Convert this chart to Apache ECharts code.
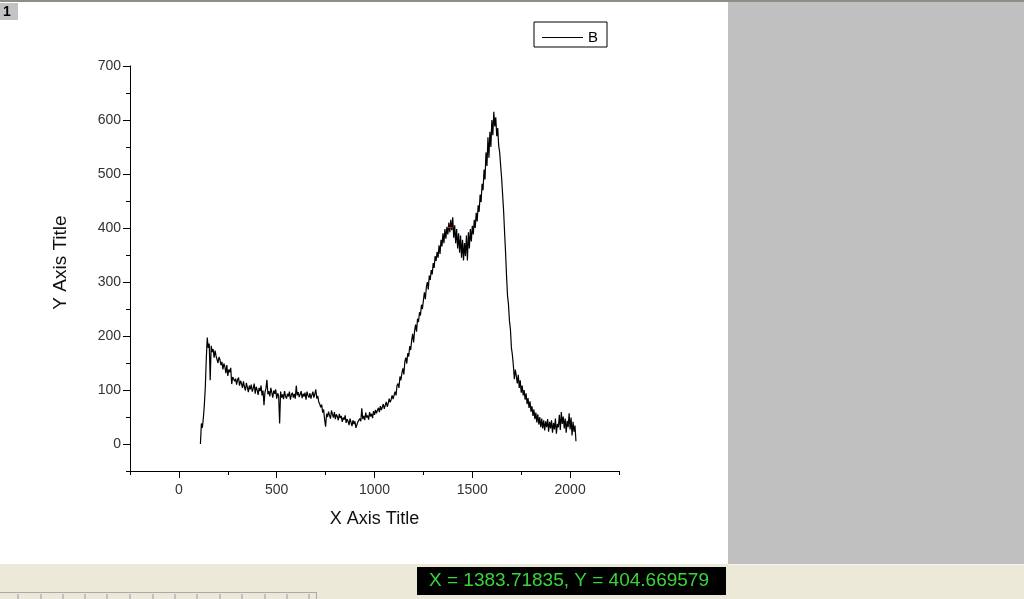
<!DOCTYPE html>
<html>
<head>
<meta charset="utf-8">
<script src="https://cdn.jsdelivr.net/npm/echarts@6.0.0/dist/echarts.min.js"></script>
<style>
  html, body { margin: 0; padding: 0; background: #ffffff; }
  #chart { width: 1024px; height: 599px; }
</style>
</head>
<body>
<div id="chart"></div>
<script>
// ---------- data ----------
const seriesName = 'B';
const xTitle = 'X Axis Title';
const yTitle = 'Y Axis Title';
const xMajorTicks = [0, 500, 1000, 1500, 2000];
const yMajorTicks = [0, 100, 200, 300, 400, 500, 600, 700];
const statusText = 'X = 1383.71835, Y = 404.669579';
const cursorMark = [[1370, 402], [1398, 402]];
const spectrumB = [
[110,0],[115,38],[120,30],[125,48],[130,72],[135,105],[140,158],[145,197],[150,178],[155,186],
[160,118],[165,182],[170,170],[175,176],[180,160],[185,173],[190,163],[195,166],[200,150],[205,161],
[210,156],[215,146],[220,152],[225,138],[230,149],[235,143],[240,131],[245,146],[250,126],[255,138],
[260,133],[265,141],[270,111],[275,124],[280,127],[285,116],[290,121],[295,110],[300,119],[305,123],
[310,108],[315,117],[320,112],[325,104],[330,116],[335,106],[340,99],[345,113],[350,105],[355,96],
[360,108],[365,101],[370,110],[375,97],[380,103],[385,112],[390,93],[395,106],[400,100],[405,91],
[410,104],[415,98],[420,108],[425,90],[430,99],[435,72],[440,96],[445,103],[450,119],[455,92],
[460,98],[465,88],[470,104],[475,95],[480,86],[485,99],[490,93],[495,101],[500,84],[505,94],
[510,89],[515,38],[520,97],[525,86],[530,92],[535,83],[540,98],[545,89],[550,84],[555,93],
[560,88],[565,97],[570,82],[575,91],[580,95],[585,86],[590,93],[595,84],[600,108],[605,90],
[610,96],[615,87],[620,92],[625,98],[630,85],[635,93],[640,88],[645,95],[650,82],[655,97],
[660,90],[665,86],[670,94],[675,84],[680,91],[685,97],[690,86],[695,93],[700,101],[705,84],
[710,89],[715,78],[720,74],[725,68],[730,73],[735,58],[740,64],[745,45],[750,32],[755,56],
[760,50],[765,60],[770,53],[775,47],[780,62],[785,55],[790,49],[795,59],[800,46],[805,55],
[810,51],[815,44],[820,56],[825,48],[830,52],[835,41],[840,49],[845,45],[850,53],[855,39],
[860,46],[865,42],[870,35],[875,47],[880,40],[885,33],[890,44],[895,37],[900,42],[905,30],
[910,27],[915,41],[920,38],[925,47],[930,42],[935,66],[940,46],[945,52],[950,44],[955,58],
[960,49],[965,53],[970,45],[975,59],[980,51],[985,56],[990,48],[995,61],[1000,54],[1005,63],
[1010,57],[1015,62],[1020,67],[1025,59],[1030,70],[1035,63],[1040,66],[1045,74],[1050,65],[1055,72],
[1060,78],[1065,69],[1070,75],[1075,84],[1080,77],[1085,82],[1090,90],[1095,83],[1100,86],[1105,97],
[1110,90],[1115,108],[1120,112],[1125,104],[1130,125],[1135,118],[1140,131],[1145,140],[1150,129],[1155,152],
[1160,160],[1165,149],[1170,168],[1175,162],[1180,181],[1185,174],[1190,192],[1195,204],[1200,188],[1205,210],
[1210,221],[1215,208],[1220,232],[1225,226],[1230,244],[1235,238],[1240,258],[1245,250],[1250,266],[1255,281],
[1260,268],[1265,290],[1270,300],[1275,286],[1280,312],[1285,304],[1290,322],[1295,314],[1300,335],[1305,326],
[1310,348],[1315,339],[1320,356],[1325,345],[1330,368],[1335,352],[1340,378],[1345,366],[1350,390],[1355,372],
[1360,398],[1365,380],[1370,402],[1375,388],[1380,410],[1385,392],[1390,415],[1395,396],[1400,420],[1405,382],
[1410,405],[1415,372],[1420,398],[1425,362],[1430,390],[1435,354],[1440,386],[1445,345],[1450,378],[1455,340],
[1460,372],[1465,348],[1470,386],[1475,340],[1480,392],[1485,362],[1490,398],[1495,375],[1500,404],[1505,388],
[1510,415],[1515,400],[1520,428],[1525,412],[1530,442],[1535,430],[1540,462],[1545,448],[1550,482],[1555,470],
[1560,508],[1565,490],[1570,540],[1575,515],[1580,568],[1585,530],[1590,578],[1595,550],[1600,600],[1605,572],
[1610,615],[1615,588],[1620,605],[1625,570],[1630,585],[1635,552],[1640,540],[1645,515],[1650,492],[1655,462],
[1660,432],[1665,392],[1670,355],[1675,312],[1680,275],[1685,258],[1690,228],[1695,212],[1700,178],[1705,165],
[1710,145],[1715,120],[1720,138],[1725,126],[1730,112],[1735,128],[1740,104],[1745,118],[1750,95],[1755,108],
[1760,90],[1765,100],[1770,82],[1775,94],[1780,74],[1785,85],[1790,67],[1795,79],[1800,60],[1805,70],
[1810,52],[1815,64],[1820,46],[1825,58],[1830,40],[1835,55],[1840,36],[1845,50],[1850,31],[1855,47],
[1860,29],[1865,44],[1870,25],[1875,42],[1880,31],[1885,46],[1890,23],[1895,41],[1900,29],[1905,44],
[1910,21],[1915,39],[1920,27],[1925,47],[1930,19],[1935,37],[1940,31],[1945,54],[1950,26],[1955,59],
[1960,37],[1965,51],[1970,29],[1975,47],[1980,21],[1985,43],[1990,31],[1995,57],[2000,27],[2005,49],
[2010,16],[2015,41],[2020,23],[2025,34],[2030,5]
];

// ---------- chart ----------
const FONT = '"Liberation Sans", Arial, sans-serif';
const chart = echarts.init(document.getElementById('chart'), null, { renderer: 'canvas' });

const axisLineStyle = { show: true, onZero: false, lineStyle: { color: '#000', width: 1 } };
const plainNumber = function (v) { return String(v); };

// scrollbar-like tick marks in the status strip (decoration)
const stripMarks = [];
[18, 41, 63, 85, 107, 130, 153, 175, 197, 220, 242, 265, 287, 309].forEach(function (x) {
  stripMarks.push({ type: 'line', shape: { x1: x, y1: 594, x2: x, y2: 599 }, style: { stroke: '#9a9a9a', lineWidth: 1 } });
});

const option = {
  animation: false,
  backgroundColor: '#ffffff',
  grid: { left: 130, top: 66, width: 489, height: 405, containLabel: false },
  legend: {
    data: [{ name: seriesName, icon: 'rect' }],
    left: 534, top: 22,
    orient: 'horizontal',
    padding: [8, 9, 2, 8],
    itemWidth: 41, itemHeight: 1,
    itemStyle: { color: '#000', borderWidth: 0 },
    lineStyle: { width: 0 },
    borderColor: '#000', borderWidth: 1,
    backgroundColor: '#fff',
    textStyle: { fontFamily: FONT, fontSize: 15, color: '#000' }
  },
  xAxis: [
    {
      type: 'value', gridIndex: 0, position: 'bottom',
      min: -250, max: 2250, interval: 250,
      axisLine: axisLineStyle,
      axisTick: { show: true, inside: false, length: 4, lineStyle: { color: '#000' } },
      axisLabel: { show: false },
      splitLine: { show: false }
    },
    {
      type: 'value', gridIndex: 0, position: 'bottom',
      min: -250, max: 2250, interval: 250,
      axisLine: { show: false, onZero: false },
      axisTick: { show: true, inside: false, length: 7, customValues: xMajorTicks, lineStyle: { color: '#000' } },
      axisLabel: { show: true, customValues: xMajorTicks, formatter: plainNumber, margin: 12, fontFamily: FONT, fontSize: 14, color: '#333' },
      splitLine: { show: false },
      name: xTitle, nameLocation: 'middle', nameGap: 39,
      nameTextStyle: { fontFamily: FONT, fontSize: 18, color: '#111' }
    }
  ],
  yAxis: [
    {
      type: 'value', gridIndex: 0, position: 'left',
      min: -50, max: 700, interval: 50,
      axisLine: axisLineStyle,
      axisTick: { show: true, inside: false, length: 4, lineStyle: { color: '#000' } },
      axisLabel: { show: false },
      splitLine: { show: false }
    },
    {
      type: 'value', gridIndex: 0, position: 'left',
      min: -50, max: 700, interval: 50,
      axisLine: { show: false, onZero: false },
      axisTick: { show: true, inside: false, length: 7, customValues: yMajorTicks, lineStyle: { color: '#000' } },
      axisLabel: { show: true, customValues: yMajorTicks, formatter: plainNumber, margin: 9, fontFamily: FONT, fontSize: 14, color: '#333' },
      splitLine: { show: false },
      name: yTitle, nameLocation: 'middle', nameGap: 60, nameRotate: 90,
      nameTextStyle: { fontFamily: FONT, fontSize: 19, color: '#111', padding: [0, 0, 0, 12] }
    }
  ],
  series: [
    {
      name: seriesName,
      type: 'line',
      xAxisIndex: 0, yAxisIndex: 0,
      data: spectrumB,
      symbol: 'none', showSymbol: false,
      smooth: false,
      lineStyle: { color: '#000', width: 1.2 },
      itemStyle: { color: '#000' },
      markLine: {
        silent: true, symbol: ['none', 'none'],
        label: { show: false },
        lineStyle: { color: '#e02020', width: 1, type: 'solid' },
        data: [[{ coord: cursorMark[0] }, { coord: cursorMark[1] }]]
      }
    }
  ],
  graphic: [
    { type: 'rect', z: -10, shape: { x: 0, y: 0, width: 1024, height: 2 }, style: { fill: '#8e8e86' } },
    { type: 'rect', z: -10, shape: { x: 728, y: 2, width: 296, height: 562 }, style: { fill: '#c0c0c0' } },
    { type: 'rect', z: -10, shape: { x: 0, y: 564, width: 1024, height: 35 }, style: { fill: '#ece9d8' } },
    { type: 'line', z: -9, shape: { x1: 728, y1: 564.5, x2: 1024, y2: 564.5 }, style: { stroke: '#f6f5ee', lineWidth: 1 } },
    { type: 'line', z: -9, shape: { x1: 0, y1: 592.5, x2: 317, y2: 592.5 }, style: { stroke: '#a8a8a8', lineWidth: 1 } },
    { type: 'line', z: -9, shape: { x1: 316.5, y1: 592, x2: 316.5, y2: 599 }, style: { stroke: '#a8a8a8', lineWidth: 1 } },
    { type: 'group', z: -9, children: stripMarks },
    { type: 'rect', z: 5, shape: { x: 0, y: 3, width: 18, height: 17 }, style: { fill: '#c3c3c3' } },
    { type: 'text', z: 6, x: 7, y: 12, style: { text: '1', fontFamily: FONT, fontSize: 14, fontWeight: 'bold', fill: '#000', align: 'center', verticalAlign: 'middle' } },
    { type: 'rect', z: 5, shape: { x: 417, y: 567, width: 309, height: 28 }, style: { fill: '#000000' } },
    { type: 'text', z: 6, x: 569, y: 581, style: { text: statusText, fontFamily: FONT, fontSize: 19, fill: '#3ad43a', align: 'center', verticalAlign: 'middle' } }
  ]
};

chart.setOption(option);
</script>
</body>
</html>
